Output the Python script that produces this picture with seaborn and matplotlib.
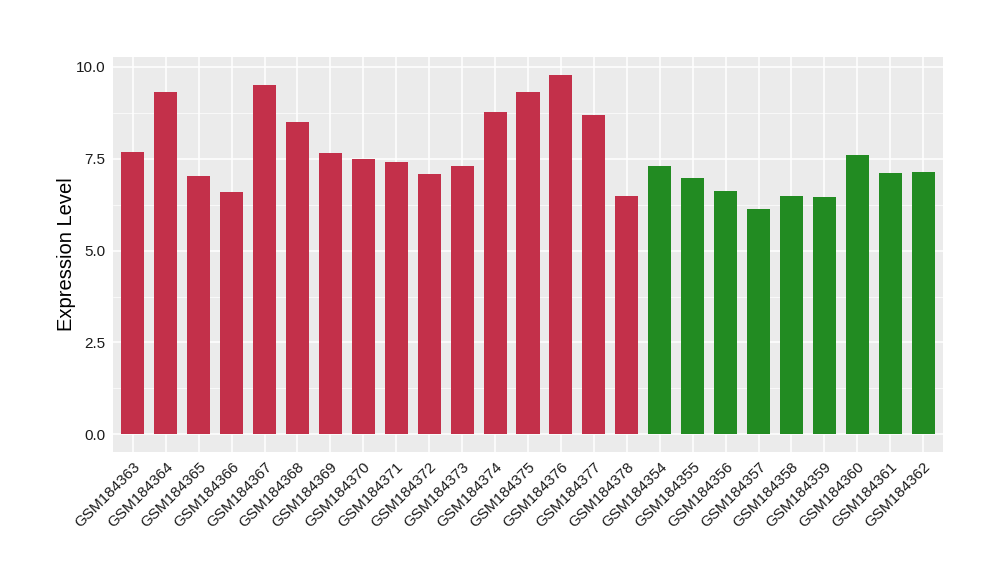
import pandas as pd
import matplotlib
matplotlib.use("Agg")
import matplotlib.pyplot as plt
import seaborn as sns
from matplotlib.ticker import MultipleLocator

# data
samples = ["GSM184363", "GSM184364", "GSM184365", "GSM184366", "GSM184367",
           "GSM184368", "GSM184369", "GSM184370", "GSM184371", "GSM184372",
           "GSM184373", "GSM184374", "GSM184375", "GSM184376", "GSM184377",
           "GSM184378", "GSM184354", "GSM184355", "GSM184356", "GSM184357",
           "GSM184358", "GSM184359", "GSM184360", "GSM184361", "GSM184362"]
expression = [7.69, 9.33, 7.04, 6.60, 9.52, 8.51, 7.66, 7.50, 7.42, 7.09,
              7.31, 8.78, 9.33, 9.79, 8.70, 6.49, 7.31, 6.98, 6.63, 6.14,
              6.49, 6.46, 7.61, 7.12, 7.14]
groups = ["A"] * 16 + ["B"] * 9
group_colors = {"A": "#C3304A", "B": "#228B22"}

df = pd.DataFrame({"Sample": samples, "Expression": expression, "Group": groups})

sns.set_theme(style="darkgrid")
plt.rcParams["font.family"] = ["Liberation Sans", "DejaVu Sans"]

fig = plt.figure(figsize=(10, 5.8), dpi=100)
ax = fig.add_axes([0.113, 0.2202, 0.83, 0.682])
ax.set_facecolor("#EBEBEB")

sns.barplot(data=df, x="Sample", y="Expression", hue="Group", palette=group_colors,
            dodge=False, width=0.7, legend=False, saturation=1, linewidth=0,
            edgecolor="none", ax=ax)

# ggplot-like expansion
ymax = max(expression)
ax.set_ylim(-0.05 * ymax, ymax * 1.05)
ax.set_xlim(-0.6, len(samples) - 0.4)

ax.yaxis.set_minor_locator(MultipleLocator(1.25))
ax.set_yticks([0, 2.5, 5, 7.5, 10])
ax.set_yticklabels(["0.0", "2.5", "5.0", "7.5", "10.0"])
ax.grid(which="major", color="white", linewidth=1.1)
ax.grid(which="minor", axis="y", color="white", linewidth=0.5)
ax.set_axisbelow(True)
for s in ax.spines.values():
    s.set_visible(False)

ax.tick_params(axis="both", which="major", length=3.5, width=0.8, color="#333333",
               labelsize=11, labelcolor="#1A1A1A", pad=2)
ax.tick_params(axis="y", which="minor", length=0)
plt.setp(ax.get_xticklabels(), rotation=45, ha="right", rotation_mode="anchor")

ax.set_xlabel("")
ax.set_ylabel("Expression Level", fontsize=14.5, labelpad=0, color="black")

fig.savefig("out.png", dpi=100)
